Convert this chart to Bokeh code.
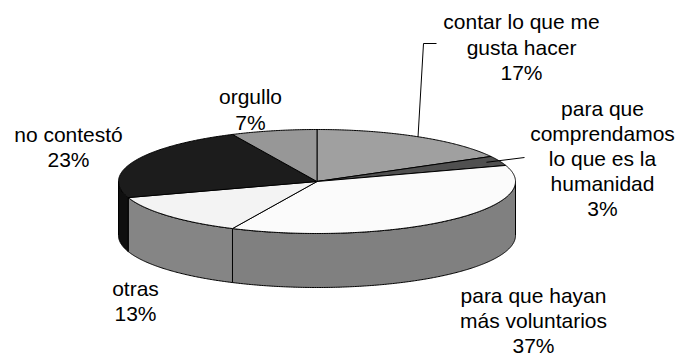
import numpy as np
from bokeh.plotting import figure
from bokeh.models import Range1d, ColumnDataSource
from bokeh.embed import file_html
from bokeh.resources import INLINE
from bokeh.core.properties import value

# Survey answers, listed clockwise starting at twelve o'clock
categories = [
    "contar lo que me gusta hacer",
    "para que comprendamos lo que es la humanidad",
    "para que hayan más voluntarios",
    "otras",
    "no contestó",
    "orgullo",
]
percentages = [17, 3, 37, 13, 23, 7]
label_lines = [
    ["contar lo que me", "gusta hacer"],
    ["para que", "comprendamos", "lo que es la", "humanidad"],
    ["para que hayan", "más voluntarios"],
    ["otras"],
    ["no contestó"],
    ["orgullo"],
]

# Fill of the top face and of the rim of each slice
top_colors = ["#a0a0a0", "#505050", "#fbfbfb", "#f3f3f3", "#1c1c1c", "#979797"]
side_colors = ["#707070", "#303030", "#808080", "#858585", "#0f0f0f", "#6a6a6a"]

# Disc geometry in screen-like units (y grows downward)
CX, CY = 316.5, 181.0
RX, RY = 198.5, 52.0
DEPTH = 54.0

# Label block centres and leader line elbows
label_centers = [(521, 46.5), (602, 158), (533, 320), (135, 300.5), (68, 146.5), (250, 109)]
LINE_H = 25.2
FONT = "Liberation Sans"
FONT_SIZE = "21px"


def rim(t_deg, r=1.0, drop=0.0):
    t = np.radians(t_deg)
    return CX + r * RX * np.sin(t), CY - r * RY * np.cos(t) + drop


def arc(a0, a1, drop=0.0):
    n = max(2, int(abs(a1 - a0) * 2) + 1)
    t = np.linspace(a0, a1, n)
    x, y = rim(t, drop=drop)
    return list(x), list(y)


total = float(sum(percentages))
bounds = np.concatenate([[0.0], np.cumsum(percentages) / total * 360.0])

p = figure(width=682, height=356, output_backend="svg", toolbar_location=None,
           x_axis_type=None, y_axis_type=None,
           x_range=Range1d(0, 682), y_range=Range1d(356, 0),
           min_border=0, min_border_left=0, min_border_right=0,
           min_border_top=0, min_border_bottom=0)
p.outline_line_color = None
p.grid.visible = False
p.background_fill_color = "white"
p.border_fill_color = "white"

# Rim: only the part facing the viewer (between 3 and 9 o'clock)
side_xs, side_ys, side_fill = [], [], []
for i in range(len(percentages)):
    a0 = max(bounds[i], 90.0)
    a1 = min(bounds[i + 1], 270.0)
    if a1 <= a0:
        continue
    tx, ty = arc(a0, a1)
    bx, by = arc(a0, a1, drop=DEPTH)
    side_xs.append(tx + bx[::-1])
    side_ys.append(ty + by[::-1])
    side_fill.append(side_colors[i])
p.patches(xs=side_xs, ys=side_ys, fill_color=side_fill,
          line_color="black", line_width=1)

# Top faces
top_xs, top_ys = [], []
for i in range(len(percentages)):
    ax, ay = arc(bounds[i], bounds[i + 1])
    top_xs.append([CX] + ax)
    top_ys.append([CY] + ay)
p.patches(xs=top_xs, ys=top_ys, fill_color=top_colors,
          line_color="black", line_width=1)

# Leader lines for the two labels placed away from their slices
mid0 = (bounds[0] + bounds[1]) / 2
mid1 = (bounds[1] + bounds[2]) / 2
sx0, sy0 = rim(mid0)
sx1, sy1 = rim(mid1, r=0.93)
p.line(x=[sx0, 423, 436], y=[sy0, 43, 43], line_color="black", line_width=1)
p.line(x=[sx1, 524], y=[sy1, 157], line_color="black", line_width=1)

# Labels: category text followed by its percentage
tx, ty, tt = [], [], []
for i, lines in enumerate(label_lines):
    rows = lines + [f"{percentages[i]}%"]
    cx, cy = label_centers[i]
    n = len(rows)
    for k, row in enumerate(rows):
        tx.append(cx)
        ty.append(cy + (k - (n - 1) / 2) * LINE_H)
        tt.append(row)
src = ColumnDataSource(dict(x=tx, y=ty, text=tt))
p.text(x="x", y="y", text="text", source=src, text_align="center",
       text_baseline="middle", text_font=value(FONT), text_font_size=FONT_SIZE,
       text_color="black")

open("out.html", "w").write(file_html(p, INLINE))
